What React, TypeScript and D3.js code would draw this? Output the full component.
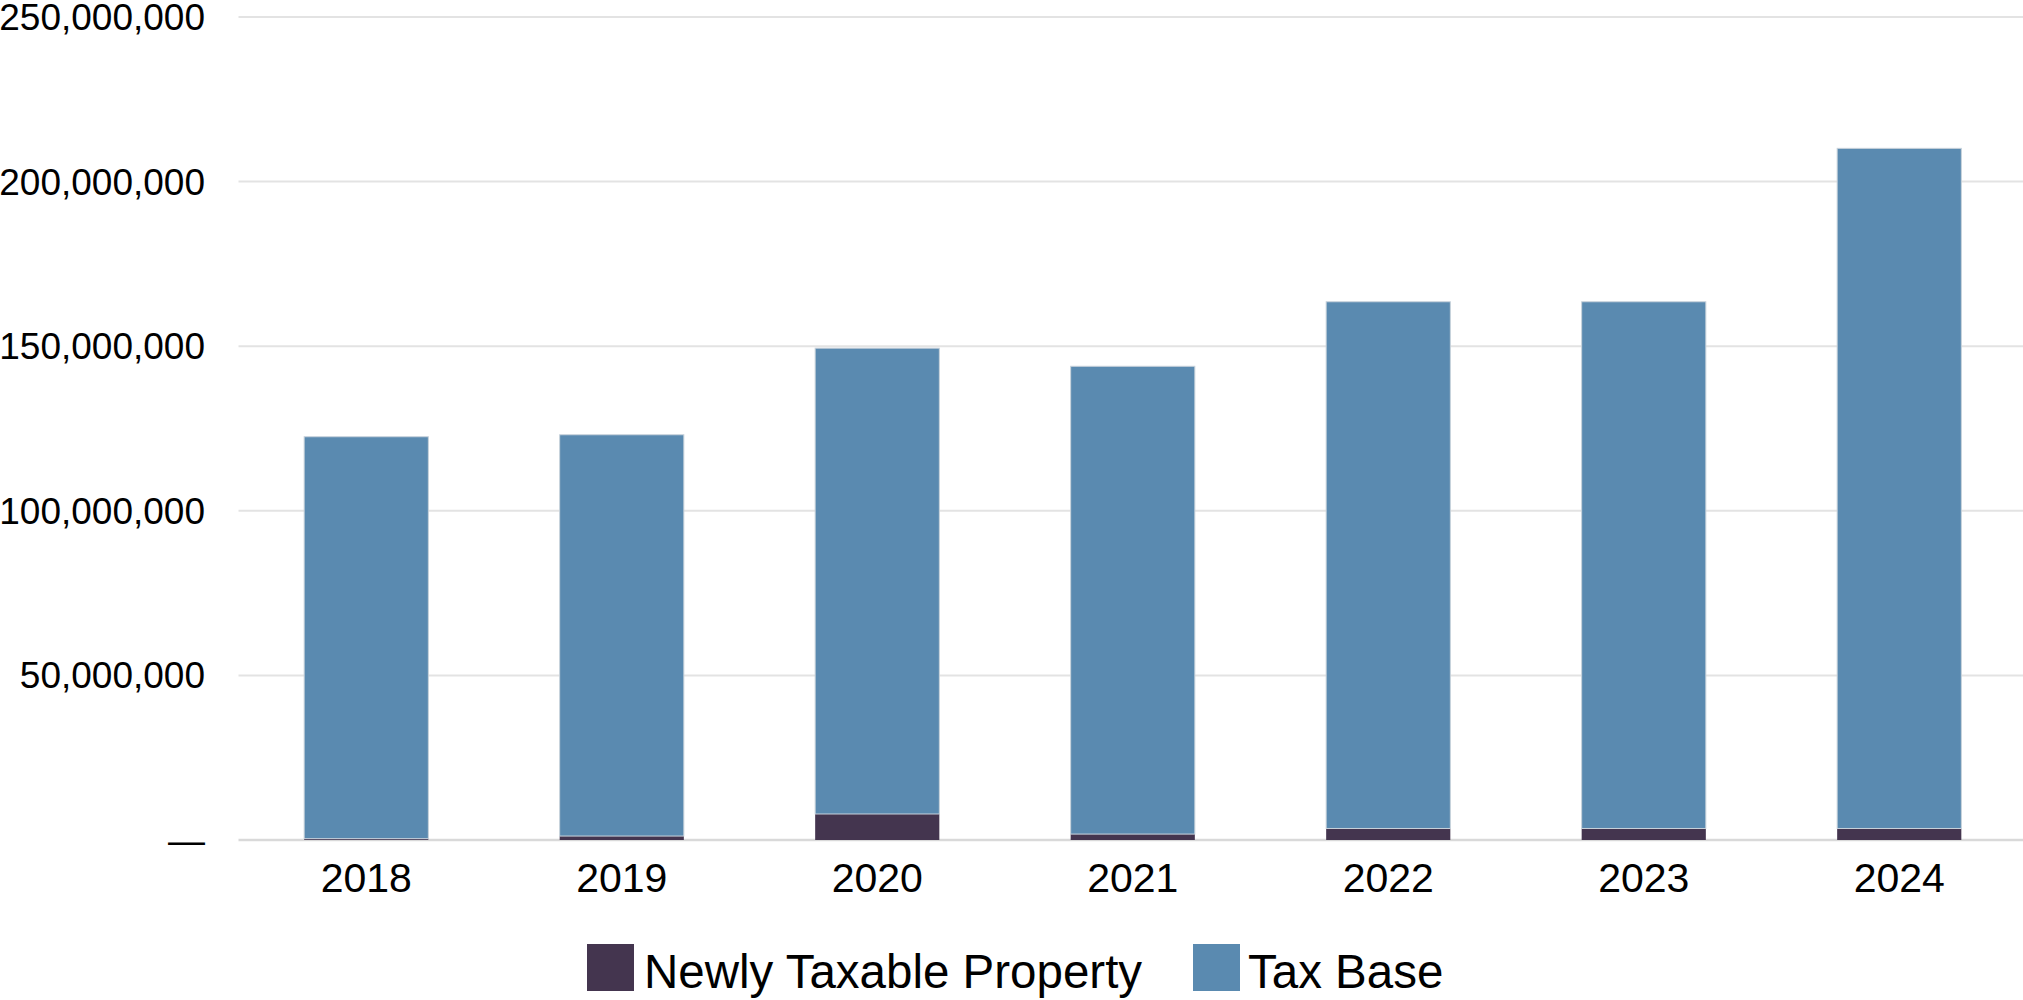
import React from "react";
import * as d3 from "d3";

const years = ["2018", "2019", "2020", "2021", "2022", "2023", "2024"];
const newlyTaxable = [0.4e6, 1.2e6, 7.9e6, 1.8e6, 3.5e6, 3.5e6, 3.5e6];
const taxBase = [122.1e6, 121.9e6, 141.5e6, 142.1e6, 160.0e6, 160.0e6, 206.6e6];
const yTicks = [0, 50e6, 100e6, 150e6, 200e6, 250e6];
const seriesNames = ["Newly Taxable Property", "Tax Base"];
const seriesColors = ["#44354f", "#5a8ab0"];

const W = 2023;
const H = 1000;
const FONT = "'Liberation Sans', Arial, Helvetica, sans-serif";

export default function App() {
  const x = d3
    .scaleBand<string>()
    .domain(years)
    .range([238.5, 2027])
    .paddingInner(0.514)
    .paddingOuter(0.257);
  const y = d3.scaleLinear().domain([0, 250e6]).range([840, 17]);

  const rows = years.map((yr, i) => ({ year: yr, newly: newlyTaxable[i], base: taxBase[i] }));
  const stack = d3.stack<any>().keys(["newly", "base"]);
  const layers = stack(rows);

  const fmt = d3.format(",");

  return (
    <svg
      width={W}
      height={H}
      style={{ position: "absolute", left: 0, top: 0, background: "#fff" }}
      fontFamily={FONT}
    >
      <rect x={0} y={0} width={W} height={H} fill="#fff" />
      {yTicks.map((t) => (
        <g key={t}>
          <line
            x1={238.5}
            x2={W}
            y1={y(t)}
            y2={y(t)}
            stroke={t === 0 ? "#d9d9d9" : "#e3e3e3"}
            strokeWidth={t === 0 ? 2.5 : 2}
          />
          <text x={205} y={y(t) + 13} textAnchor="end" fontSize={37} fill="#000">
            {t === 0 ? "—" : fmt(t)}
          </text>
        </g>
      ))}
      {layers.map((layer, li) => (
        <g key={li} fill={seriesColors[li]}>
          {layer.map((d: any, i: number) => (
            <rect
              key={i}
              x={x(years[i])}
              width={x.bandwidth()}
              y={y(d[1])}
              height={Math.max(0, y(d[0]) - y(d[1]))}
              stroke={li === 1 ? "#c8d2db" : "none"}
              strokeWidth={li === 1 ? 1 : 0}
            />
          ))}
        </g>
      ))}
      {years.map((yr) => (
        <text
          key={yr}
          x={(x(yr) as number) + x.bandwidth() / 2}
          y={892}
          textAnchor="middle"
          fontSize={41}
          fill="#000"
        >
          {yr}
        </text>
      ))}
      <g>
        <rect x={587} y={944} width={47} height={47} fill={seriesColors[0]} />
        <text x={644} y={988} fontSize={47.5} fill="#000">
          {seriesNames[0]}
        </text>
        <rect x={1193} y={944} width={47} height={47} fill={seriesColors[1]} />
        <text x={1248} y={988} fontSize={47.5} fill="#000">
          {seriesNames[1]}
        </text>
      </g>
    </svg>
  );
}
